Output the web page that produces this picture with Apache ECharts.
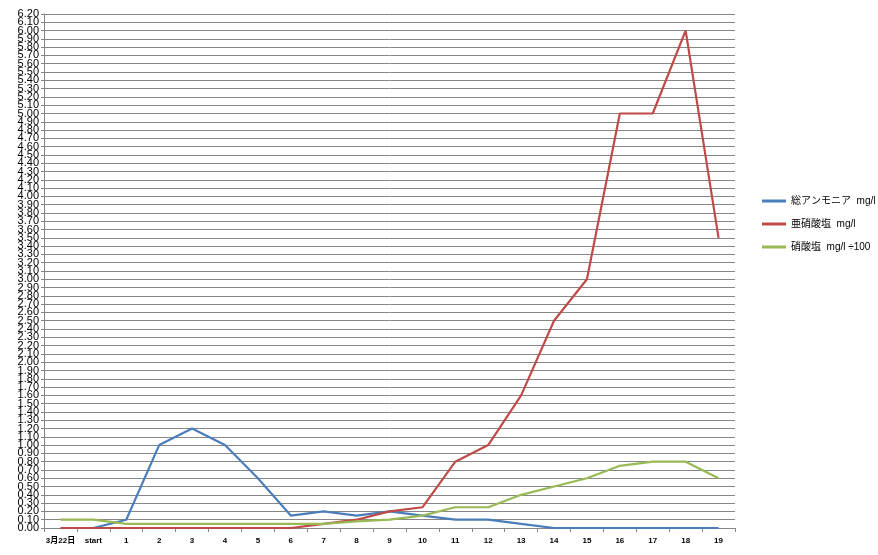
<!DOCTYPE html>
<html><head><meta charset="utf-8">
<script src="https://cdn.jsdelivr.net/npm/echarts@6/dist/echarts.min.js"></script>
<style>html,body{margin:0;padding:0;background:#fff}#c{width:878px;height:555px}</style>
</head><body><div id="c"></div>
<script>
const categories = ['3月22日','start','1','2','3','4','5','6','7','8','9','10','11','12','13','14','15','16','17','18','19'];
const ammonia = [null,0,0.10,1.00,1.20,1.00,0.60,0.15,0.20,0.15,0.20,0.15,0.10,0.10,0.05,0,0,0,0,0,0];
const nitrite = [0,0,0,0,0,0,0,0,0.05,0.10,0.20,0.25,0.80,1.00,1.60,2.50,3.00,5.00,5.00,6.00,3.50];
const nitrate = [0.10,0.10,0.05,0.05,0.05,0.05,0.05,0.05,0.05,0.08,0.10,0.15,0.25,0.25,0.40,0.50,0.60,0.75,0.80,0.80,0.60];
const seriesNames = ['総アンモニア  mg/l','亜硝酸塩  mg/l','硝酸塩  mg/l ÷100'];
const colors = ['#4a7ebb','#be4b48','#98b954'];

const chart = echarts.init(document.getElementById('c'));
const font = 'Liberation Sans, Noto Sans CJK JP, sans-serif';
const labelBase = {fontSize:11,color:'#000',margin:5,fontFamily:font};
chart.setOption({
  animation:false,
  textStyle:{fontFamily:font},
  grid:{left:44,right:143,top:14,bottom:27,containLabel:false},
  legend:{
    orient:'vertical', left:757, top:191, itemGap:13,
    itemWidth:24, itemHeight:3, icon:'rect',
    textStyle:{fontSize:10,color:'#000',fontFamily:font},
    data:seriesNames
  },
  xAxis:{
    type:'category', data:categories, boundaryGap:true,
    axisLine:{lineStyle:{color:'#868686',width:1}},
    axisTick:{show:true,length:4,lineStyle:{color:'#868686'}},
    axisLabel:{interval:0,fontSize:8,color:'#000',margin:9,fontWeight:'bold'}
  },
  yAxis:[{
    type:'value', min:0, max:6.2, interval:0.1, position:'left',
    axisLine:{show:true,lineStyle:{color:'#868686'}},
    axisTick:{show:true,length:3,lineStyle:{color:'#868686'}},
    axisLabel:Object.assign({showMinLabel:true,showMaxLabel:true,
      formatter:v=>(Math.round(v*10)%2===0)?v.toFixed(2):''},labelBase),
    splitLine:{lineStyle:{color:'#868686',width:1}}
  },{
    type:'value', min:0, max:6.2, interval:0.1, position:'left', offset:0,
    axisLine:{show:false}, axisTick:{show:false}, splitLine:{show:false},
    axisLabel:Object.assign({showMinLabel:false,showMaxLabel:false,
      formatter:v=>(Math.round(v*10)%2===1)?v.toFixed(2):''},labelBase)
  }],
  series:[ammonia,nitrite,nitrate].map((d,i)=>({
    name:seriesNames[i], type:'line', data:d, symbol:'none', yAxisIndex:0,
    lineStyle:{color:colors[i],width:2.2}, itemStyle:{color:colors[i]},
    connectNulls:false
  }))
});
</script></body></html>
